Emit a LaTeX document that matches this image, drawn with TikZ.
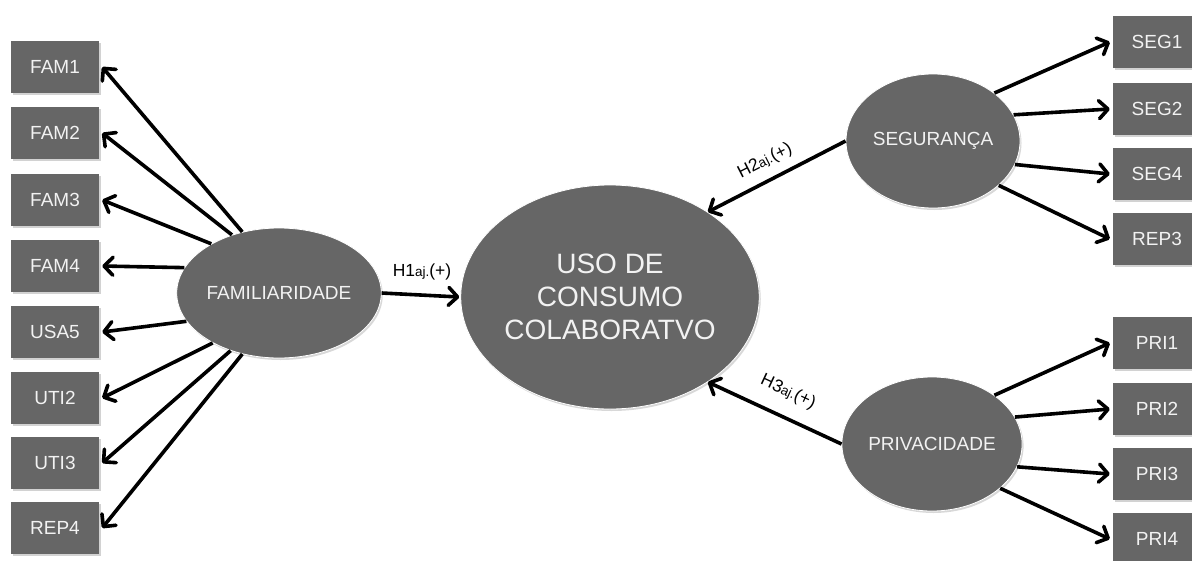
\documentclass[tikz,border=0pt]{standalone}
\usepackage{fontspec}
\setmainfont{Liberation Sans}
\usetikzlibrary{arrows.meta,shapes.geometric,shadows}
\definecolor{shapegray}{RGB}{102,102,102}
\definecolor{labelwhite}{RGB}{242,242,242}
\tikzset{
  indbox/.style={rectangle, fill=shapegray, minimum width=88pt, minimum height=52pt,
    inner sep=0pt, text=labelwhite, font=\fontsize{19}{22}\selectfont,
    drop shadow={shadow xshift=1.5pt, shadow yshift=-2pt, opacity=0.35, fill=gray}},
  latent/.style={ellipse, fill=shapegray, draw=white, line width=0.8pt, inner sep=0pt,
    text=labelwhite, font=\fontsize{19}{22}\selectfont, align=center,
    drop shadow={shadow xshift=1.5pt, shadow yshift=-2pt, opacity=0.3, fill=gray}},
  link/.style={line width=3.6pt, line join=round,
    -{Straight Barb[length=9pt,width=18pt,round]}},
  hyp/.style={font=\fontsize{17.5}{20}\selectfont, inner sep=1pt},
}
\newcommand{\hlabel}[1]{H#1{\fontsize{13.5}{15}\selectfont aj.}(+)}
\begin{document}
\begin{tikzpicture}[x=1pt,y=-1pt]
\clip (0,0) rectangle (1192,560);
\fill[white] (0,0) rectangle (1192,560);

% indicator boxes, left column
\foreach \nm/\lab/\yy in {f1/FAM1/67, f2/FAM2/133, f3/FAM3/200, f4/FAM4/266,
                          f5/USA5/332, f6/UTI2/398, f7/UTI3/463, f8/REP4/528}
  \node[indbox] (\nm) at (55,\yy) {\lab};

% indicator boxes, right column
\foreach \nm/\lab/\yy in {s1/SEG1/42, s2/SEG2/109, s3/SEG4/174, s4/REP3/239,
                          p1/PRI1/343, p2/PRI2/409, p3/PRI3/474, p4/PRI4/539}
  \node[indbox] (\nm) at (1157,\yy) {\lab};

% latent constructs
\node[latent, minimum width=172pt, minimum height=130pt] (fam) at (279,293) {FAMILIARIDADE};
\node[latent, minimum width=264pt, minimum height=224pt,
      font=\fontsize{28}{33}\selectfont] (uso) at (610,297) {USO DE\\CONSUMO\\COLABORATVO};
\node[latent, minimum width=174pt, minimum height=134pt] (seg) at (933,141) {SEGURANÇA};
\node[latent, minimum width=174pt, minimum height=134pt] (pri) at (932,444) {PRIVACIDADE};

% loadings of FAMILIARIDADE
\foreach \ang/\nm in {121/f1, 129/f2, 144/f3, 165/f4, 197/f5, 217/f6, 230/f7, 239/f8}
  \draw[link] (fam.\ang) -- ([xshift=3pt]\nm.east);

% loadings of SEGURANÇA and PRIVACIDADE
\foreach \ang/\nm in {38/s1, 18/s2, -16/s3, -34/s4}
  \draw[link] (seg.\ang) -- ([xshift=-3pt]\nm.west);
\foreach \ang/\nm in {38/p1, 18/p2, -15/p3, -33/p4}
  \draw[link] (pri.\ang) -- ([xshift=-3pt]\nm.west);

% structural paths
\draw[link] (fam.east) -- ([xshift=-1pt]uso.west);
\draw[link] (seg.west) -- (uso.41);
\draw[link] (pri.west) -- (uso.-41);

\node[hyp] (h1) at (422,272) {\hlabel{1}};
\node[hyp, rotate=27] (h2) at (765,161) {\hlabel{2}};
\node[hyp, rotate=-25] (h3) at (788,392) {\hlabel{3}};
\end{tikzpicture}
\end{document}
